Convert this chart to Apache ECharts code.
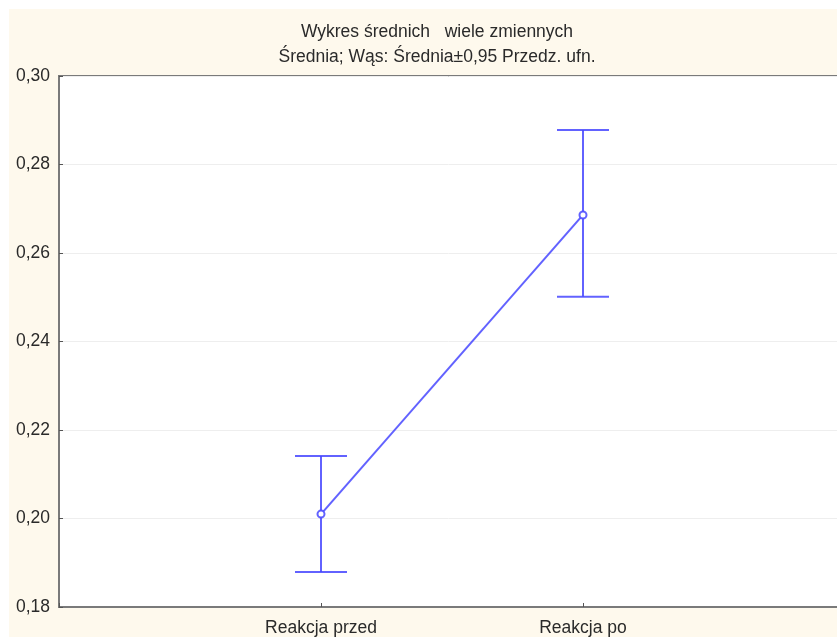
<!DOCTYPE html>
<html>
<head>
<meta charset="utf-8">
<script src="https://cdn.jsdelivr.net/npm/echarts@6/dist/echarts.min.js"></script>
<style>
  html, body { margin: 0; padding: 0; background: #fff; }
  #chart {
    width: 837px; height: 637px;
    background: linear-gradient(#fef9ed, #fef9ed) no-repeat 9px 9px / 828px 628px, #fff;
  }
</style>
</head>
<body>
<div id="chart"></div>
<script>
// Variables plotted and their means with 0.95 confidence limits
const categories = ['Reakcja przed', 'Reakcja po'];
const means = [0.2010, 0.2686];
const lowerCI = [0.1879, 0.2501];
const upperCI = [0.2141, 0.2878];
const yTicks = [0.18, 0.20, 0.22, 0.24, 0.26, 0.28, 0.30];

const titleLines = ['Wykres średnich   wiele zmiennych', 'Średnia; Wąs: Średnia±0,95 Przedz. ufn.'];

// Pad the category axis so the two variables sit at 1/3 and 2/3 of the width
const axisCats = [''].concat(categories, ['']);
const blue = 'rgba(70,70,255,0.85)';
const font = 'Liberation Sans, Arial, sans-serif';

const chart = echarts.init(document.getElementById('chart'), null, { renderer: 'canvas' });

chart.setOption({
  backgroundColor: 'transparent',
  animation: false,
  title: {
    text: titleLines.join('\n'),
    left: 432,
    textAlign: 'center',
    top: 15,
    textStyle: { fontFamily: font, fontSize: 17.5, fontWeight: 'normal', color: '#2a2a2a', lineHeight: 25 }
  },
  grid: {
    left: 59, top: 76, width: 786, height: 531,
    show: true, backgroundColor: '#fff', borderColor: '#7a7a7a', borderWidth: 2,
    containLabel: false,
    outerBoundsMode: 'none'
  },
  xAxis: {
    type: 'category',
    data: axisCats,
    boundaryGap: false,
    axisLine: { show: true, lineStyle: { color: '#7a7a7a', width: 2 } },
    axisTick: { show: true, inside: true, length: 4, lineStyle: { color: '#555' } },
    axisLabel: { fontFamily: font, fontSize: 17.5, color: '#2a2a2a', margin: 12 },
    splitLine: { show: false }
  },
  yAxis: {
    type: 'value',
    min: yTicks[0],
    max: yTicks[yTicks.length - 1],
    interval: 0.02,
    axisLine: { show: true, lineStyle: { color: '#7a7a7a', width: 2 } },
    axisTick: { show: true, inside: true, length: 4, lineStyle: { color: '#555' } },
    axisLabel: {
      fontFamily: font, fontSize: 17.5, color: '#2a2a2a', margin: 9,
      formatter: v => v.toFixed(2).replace('.', ',')
    },
    splitLine: { show: true, lineStyle: { color: '#eeeeee', width: 1 } }
  },
  series: [
    {
      type: 'custom',
      name: 'CI',
      renderItem: function (params, api) {
        const x = api.value(0);
        const lo = api.coord([x, api.value(1)]);
        const hi = api.coord([x, api.value(2)]);
        const half = 26;
        const style = { stroke: blue, lineWidth: 2 };
        return {
          type: 'group',
          children: [
            { type: 'line', shape: { x1: lo[0], y1: lo[1], x2: hi[0], y2: hi[1] }, style: style },
            { type: 'line', shape: { x1: lo[0] - half, y1: lo[1], x2: lo[0] + half, y2: lo[1] }, style: style },
            { type: 'line', shape: { x1: hi[0] - half, y1: hi[1], x2: hi[0] + half, y2: hi[1] }, style: style }
          ]
        };
      },
      data: categories.map((c, i) => [i + 1, lowerCI[i], upperCI[i]]),
      z: 2
    },
    {
      type: 'line',
      name: 'Średnia',
      data: categories.map((c, i) => [i + 1, means[i]]),
      symbol: 'circle',
      symbolSize: 7,
      showSymbol: true,
      lineStyle: { color: blue, width: 2 },
      itemStyle: { color: '#fff', borderColor: blue, borderWidth: 2 },
      z: 3
    }
  ]
});
</script>
</body>
</html>
